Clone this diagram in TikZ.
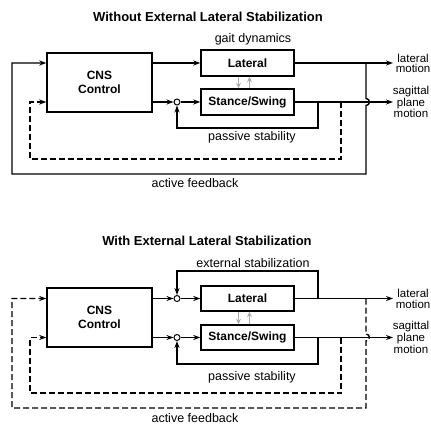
\documentclass[tikz,border=0pt]{standalone}
\usepackage{fontspec}
\setmainfont{Liberation Sans}
\usetikzlibrary{arrows.meta}
\begin{document}
\begin{tikzpicture}[x=1pt,y=-1pt,
  ln/.style={line width=1.4pt},
  arr/.style={ln,-{Stealth[length=7pt,width=5pt]}},
  garr/.style={line width=1.2pt,draw=gray!65,-{Stealth[length=5.5pt,width=5pt]}},
  dsh/.style={dash pattern=on 6pt off 3pt},
  blk/.style={draw,ln,inner sep=0pt,font=\bfseries\fontsize{12}{14}\selectfont,align=center},
  sumc/.style={draw,line width=1pt,circle,minimum size=6pt,inner sep=0pt,fill=white},
  ttl/.style={font=\bfseries\fontsize{13}{15}\selectfont},
  lbl/.style={font=\fontsize{12.5}{14}\selectfont},
  outl/.style={font=\fontsize{11.5}{10.5}\selectfont,align=center,inner sep=0pt}
]
\useasboundingbox (0,0) rectangle (431,425);
\fill[white] (0,0) rectangle (431,425);

% ---------------- top panel ----------------
\node[ttl] (titleT) at (208,17) {Without External Lateral Stabilization};
\node[lbl] (gaitT) at (253,39) {gait dynamics};
\node[blk,minimum width=105pt,minimum height=59pt] (cnsT) at (99.5,82.5) {CNS\\Control};
\node[blk,minimum width=93pt,minimum height=26pt] (latT) at (247.5,63) {Lateral};
\node[blk,minimum width=93pt,minimum height=26pt] (stT) at (247.5,102) {Stance/Swing};
\node[sumc] (sumT) at (177,102) {};
\coordinate (latOutT) at (393,63);
\coordinate (sagOutT) at (393,102);
\node[outl,anchor=east] (latLblT) at (430.5,63.5) {lateral\\motion};
\node[outl] (sagLblT) at (411,102) {sagittal\\plane\\motion};
\node[lbl] (pasT) at (252,137) {passive stability};
\node[lbl] (actT) at (195,183) {active feedback};

\draw[arr] (cnsT.east |- latT.west) -- (latT.west);
\draw[arr] (cnsT.east |- sumT) -- (sumT.west);
\draw[arr] (sumT.east) -- (stT.west);
\draw[arr] (latT.east) -- (latOutT);
\draw[arr] (stT.east) -- (sagOutT);
\draw[garr] ([xshift=-9pt]latT.south) -- ([xshift=-9pt]stT.north);
\draw[garr] ([xshift=2pt]stT.north) -- ([xshift=2pt]latT.south);
\coordinate (pT) at (318,102);
\draw[arr] (pT) -- (318,128) -| (sumT.south);
\coordinate (dT) at (341,102);
\draw[arr,dsh] (dT) -- (341,159) -- (30,159) -- (30,102) -- (cnsT.west |- sumT);
\coordinate (aT) at (366,63);
\draw[arr] (aT) -- (366,98.5) .. controls (370.5,98.5) and (370.5,105.5) .. (366,105.5)
  -- (366,174) -- (12,174) -- (12,63) -- (cnsT.west |- latT.west);

% ---------------- bottom panel ----------------
\node[ttl] (titleB) at (207,241) {With External Lateral Stabilization};
\node[lbl] (extB) at (253,263) {external stabilization};
\node[blk,minimum width=105pt,minimum height=59pt] (cnsB) at (99.5,317.5) {CNS\\Control};
\node[blk,minimum width=93pt,minimum height=25pt] (latB) at (247.5,298.5) {Lateral};
\node[blk,minimum width=93pt,minimum height=25pt] (stB) at (247.5,337.5) {Stance/Swing};
\node[sumc] (sum1B) at (177,298.5) {};
\node[sumc] (sum2B) at (177,337.5) {};
\coordinate (latOutB) at (393,298.5);
\coordinate (sagOutB) at (393,337.5);
\node[outl,anchor=east] (latLblB) at (430.5,299) {lateral\\motion};
\node[outl] (sagLblB) at (411,337.5) {sagittal\\plane\\motion};
\node[lbl] (pasB) at (252,377) {passive stability};
\node[lbl] (actB) at (195,418) {active feedback};

\draw[arr] (cnsB.east |- sum1B) -- (sum1B.west);
\draw[arr] (cnsB.east |- sum2B) -- (sum2B.west);
\draw[arr] (sum1B.east) -- (latB.west);
\draw[arr] (sum2B.east) -- (stB.west);
\draw[arr] (latB.east) -- (latOutB);
\draw[arr] (stB.east) -- (sagOutB);
\draw[garr] ([xshift=-9pt]latB.south) -- ([xshift=-9pt]stB.north);
\draw[garr] ([xshift=2pt]stB.north) -- ([xshift=2pt]latB.south);
\coordinate (eB) at (318,298.5);
\draw[arr] (eB) -- (318,271) -| (sum1B.north);
\coordinate (pB) at (318,337.5);
\draw[arr] (pB) -- (318,364) -| (sum2B.south);
\coordinate (dB) at (341,337.5);
\draw[arr,dsh] (dB) -- (341,393) -- (30,393) -- (30,337.5) -- (cnsB.west |- sum2B);
\coordinate (aB) at (366,298.5);
\draw[arr,dsh] (aB) -- (366,334) .. controls (370.5,334) and (370.5,341) .. (366,341)
  -- (366,408) -- (12,408) -- (12,298.5) -- (cnsB.west |- sum1B);
\end{tikzpicture}
\end{document}
